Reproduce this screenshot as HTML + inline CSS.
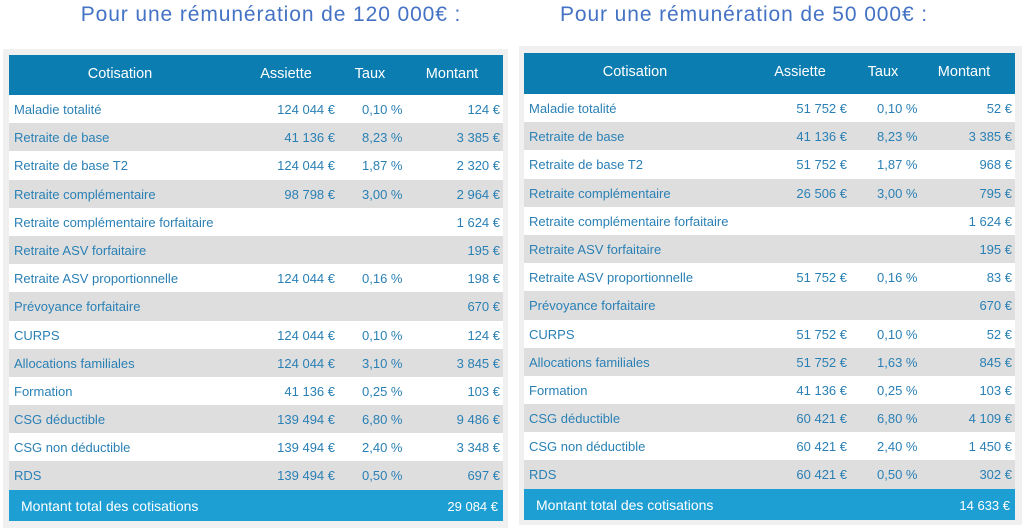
<!DOCTYPE html>
<html><head><meta charset="utf-8"><style>
body{margin:0;width:1024px;height:528px;background:#fff;position:relative;overflow:hidden;font-family:"Liberation Sans",Arial,sans-serif}
.title{position:absolute;top:0;font-size:21px;color:#4472c4;letter-spacing:0.9px;white-space:nowrap;text-align:center;width:500px;line-height:30px}
.panel{position:absolute;background:#f0f0f0}
.tbl{position:absolute;width:494px}
.hd{position:relative;height:40px;background:#0b7db1;color:#fff;font-size:14.5px}
.hd span{position:absolute;top:11px;width:200px;text-align:center}
.r{position:relative;height:28.2px;background:#fff;color:#2a80b5;font-size:13px}
.r:nth-child(even){background:#dedede}
.r span{position:absolute;top:7px;white-space:nowrap}
.n{left:5px}.a{right:168px}.t{left:353px}.m{right:3px}
.tot{position:relative;height:31px;background:#1e9fd4;color:#fff;font-size:14px}
.tot span{position:absolute;top:8px;white-space:nowrap}
</style></head><body>
<div class="title" style="left:21px">Pour une rémunération de 120 000€ :</div>
<div class="title" style="left:494px">Pour une rémunération de 50 000€ :</div>

<div class="panel" style="left:3px;top:49px;width:505px;height:479px"></div>
<div class="tbl" style="left:9px;top:55px">
<div class="hd"><span style="left:11px">Cotisation</span><span style="left:177px">Assiette</span><span style="left:261px">Taux</span><span style="left:343px">Montant</span></div>
<div>
<div class="r"><span class="n">Maladie totalité</span><span class="a">124 044 €</span><span class="t">0,10 %</span><span class="m">124 €</span></div>
<div class="r"><span class="n">Retraite de base</span><span class="a">41 136 €</span><span class="t">8,23 %</span><span class="m">3 385 €</span></div>
<div class="r"><span class="n">Retraite de base T2</span><span class="a">124 044 €</span><span class="t">1,87 %</span><span class="m">2 320 €</span></div>
<div class="r"><span class="n">Retraite complémentaire</span><span class="a">98 798 €</span><span class="t">3,00 %</span><span class="m">2 964 €</span></div>
<div class="r"><span class="n">Retraite complémentaire forfaitaire</span><span class="m">1 624 €</span></div>
<div class="r"><span class="n">Retraite ASV forfaitaire</span><span class="m">195 €</span></div>
<div class="r"><span class="n">Retraite ASV proportionnelle</span><span class="a">124 044 €</span><span class="t">0,16 %</span><span class="m">198 €</span></div>
<div class="r"><span class="n">Prévoyance forfaitaire</span><span class="m">670 €</span></div>
<div class="r"><span class="n">CURPS</span><span class="a">124 044 €</span><span class="t">0,10 %</span><span class="m">124 €</span></div>
<div class="r"><span class="n">Allocations familiales</span><span class="a">124 044 €</span><span class="t">3,10 %</span><span class="m">3 845 €</span></div>
<div class="r"><span class="n">Formation</span><span class="a">41 136 €</span><span class="t">0,25 %</span><span class="m">103 €</span></div>
<div class="r"><span class="n">CSG déductible</span><span class="a">139 494 €</span><span class="t">6,80 %</span><span class="m">9 486 €</span></div>
<div class="r"><span class="n">CSG non déductible</span><span class="a">139 494 €</span><span class="t">2,40 %</span><span class="m">3 348 €</span></div>
<div class="r"><span class="n">RDS</span><span class="a">139 494 €</span><span class="t">0,50 %</span><span class="m">697 €</span></div>
</div>
<div class="tot"><span style="left:12px">Montant total des cotisations</span><span style="right:5px;font-size:13px;top:9px">29 084 €</span></div>
</div>

<div class="panel" style="left:519px;top:46px;width:503px;height:479px"></div>
<div class="tbl" style="left:524px;top:53px;width:491px">
<div class="hd" style="height:41px"><span style="left:11px">Cotisation</span><span style="left:176px">Assiette</span><span style="left:259px">Taux</span><span style="left:340px">Montant</span></div>
<div>
<div class="r"><span class="n">Maladie totalité</span><span class="a">51 752 €</span><span class="t">0,10 %</span><span class="m">52 €</span></div>
<div class="r"><span class="n">Retraite de base</span><span class="a">41 136 €</span><span class="t">8,23 %</span><span class="m">3 385 €</span></div>
<div class="r"><span class="n">Retraite de base T2</span><span class="a">51 752 €</span><span class="t">1,87 %</span><span class="m">968 €</span></div>
<div class="r"><span class="n">Retraite complémentaire</span><span class="a">26 506 €</span><span class="t">3,00 %</span><span class="m">795 €</span></div>
<div class="r"><span class="n">Retraite complémentaire forfaitaire</span><span class="m">1 624 €</span></div>
<div class="r"><span class="n">Retraite ASV forfaitaire</span><span class="m">195 €</span></div>
<div class="r"><span class="n">Retraite ASV proportionnelle</span><span class="a">51 752 €</span><span class="t">0,16 %</span><span class="m">83 €</span></div>
<div class="r"><span class="n">Prévoyance forfaitaire</span><span class="m">670 €</span></div>
<div class="r"><span class="n">CURPS</span><span class="a">51 752 €</span><span class="t">0,10 %</span><span class="m">52 €</span></div>
<div class="r"><span class="n">Allocations familiales</span><span class="a">51 752 €</span><span class="t">1,63 %</span><span class="m">845 €</span></div>
<div class="r"><span class="n">Formation</span><span class="a">41 136 €</span><span class="t">0,25 %</span><span class="m">103 €</span></div>
<div class="r"><span class="n">CSG déductible</span><span class="a">60 421 €</span><span class="t">6,80 %</span><span class="m">4 109 €</span></div>
<div class="r"><span class="n">CSG non déductible</span><span class="a">60 421 €</span><span class="t">2,40 %</span><span class="m">1 450 €</span></div>
<div class="r"><span class="n">RDS</span><span class="a">60 421 €</span><span class="t">0,50 %</span><span class="m">302 €</span></div>
</div>
<div class="tot"><span style="left:12px">Montant total des cotisations</span><span style="right:5px;font-size:13px;top:9px">14 633 €</span></div>
</div>
</body></html>
